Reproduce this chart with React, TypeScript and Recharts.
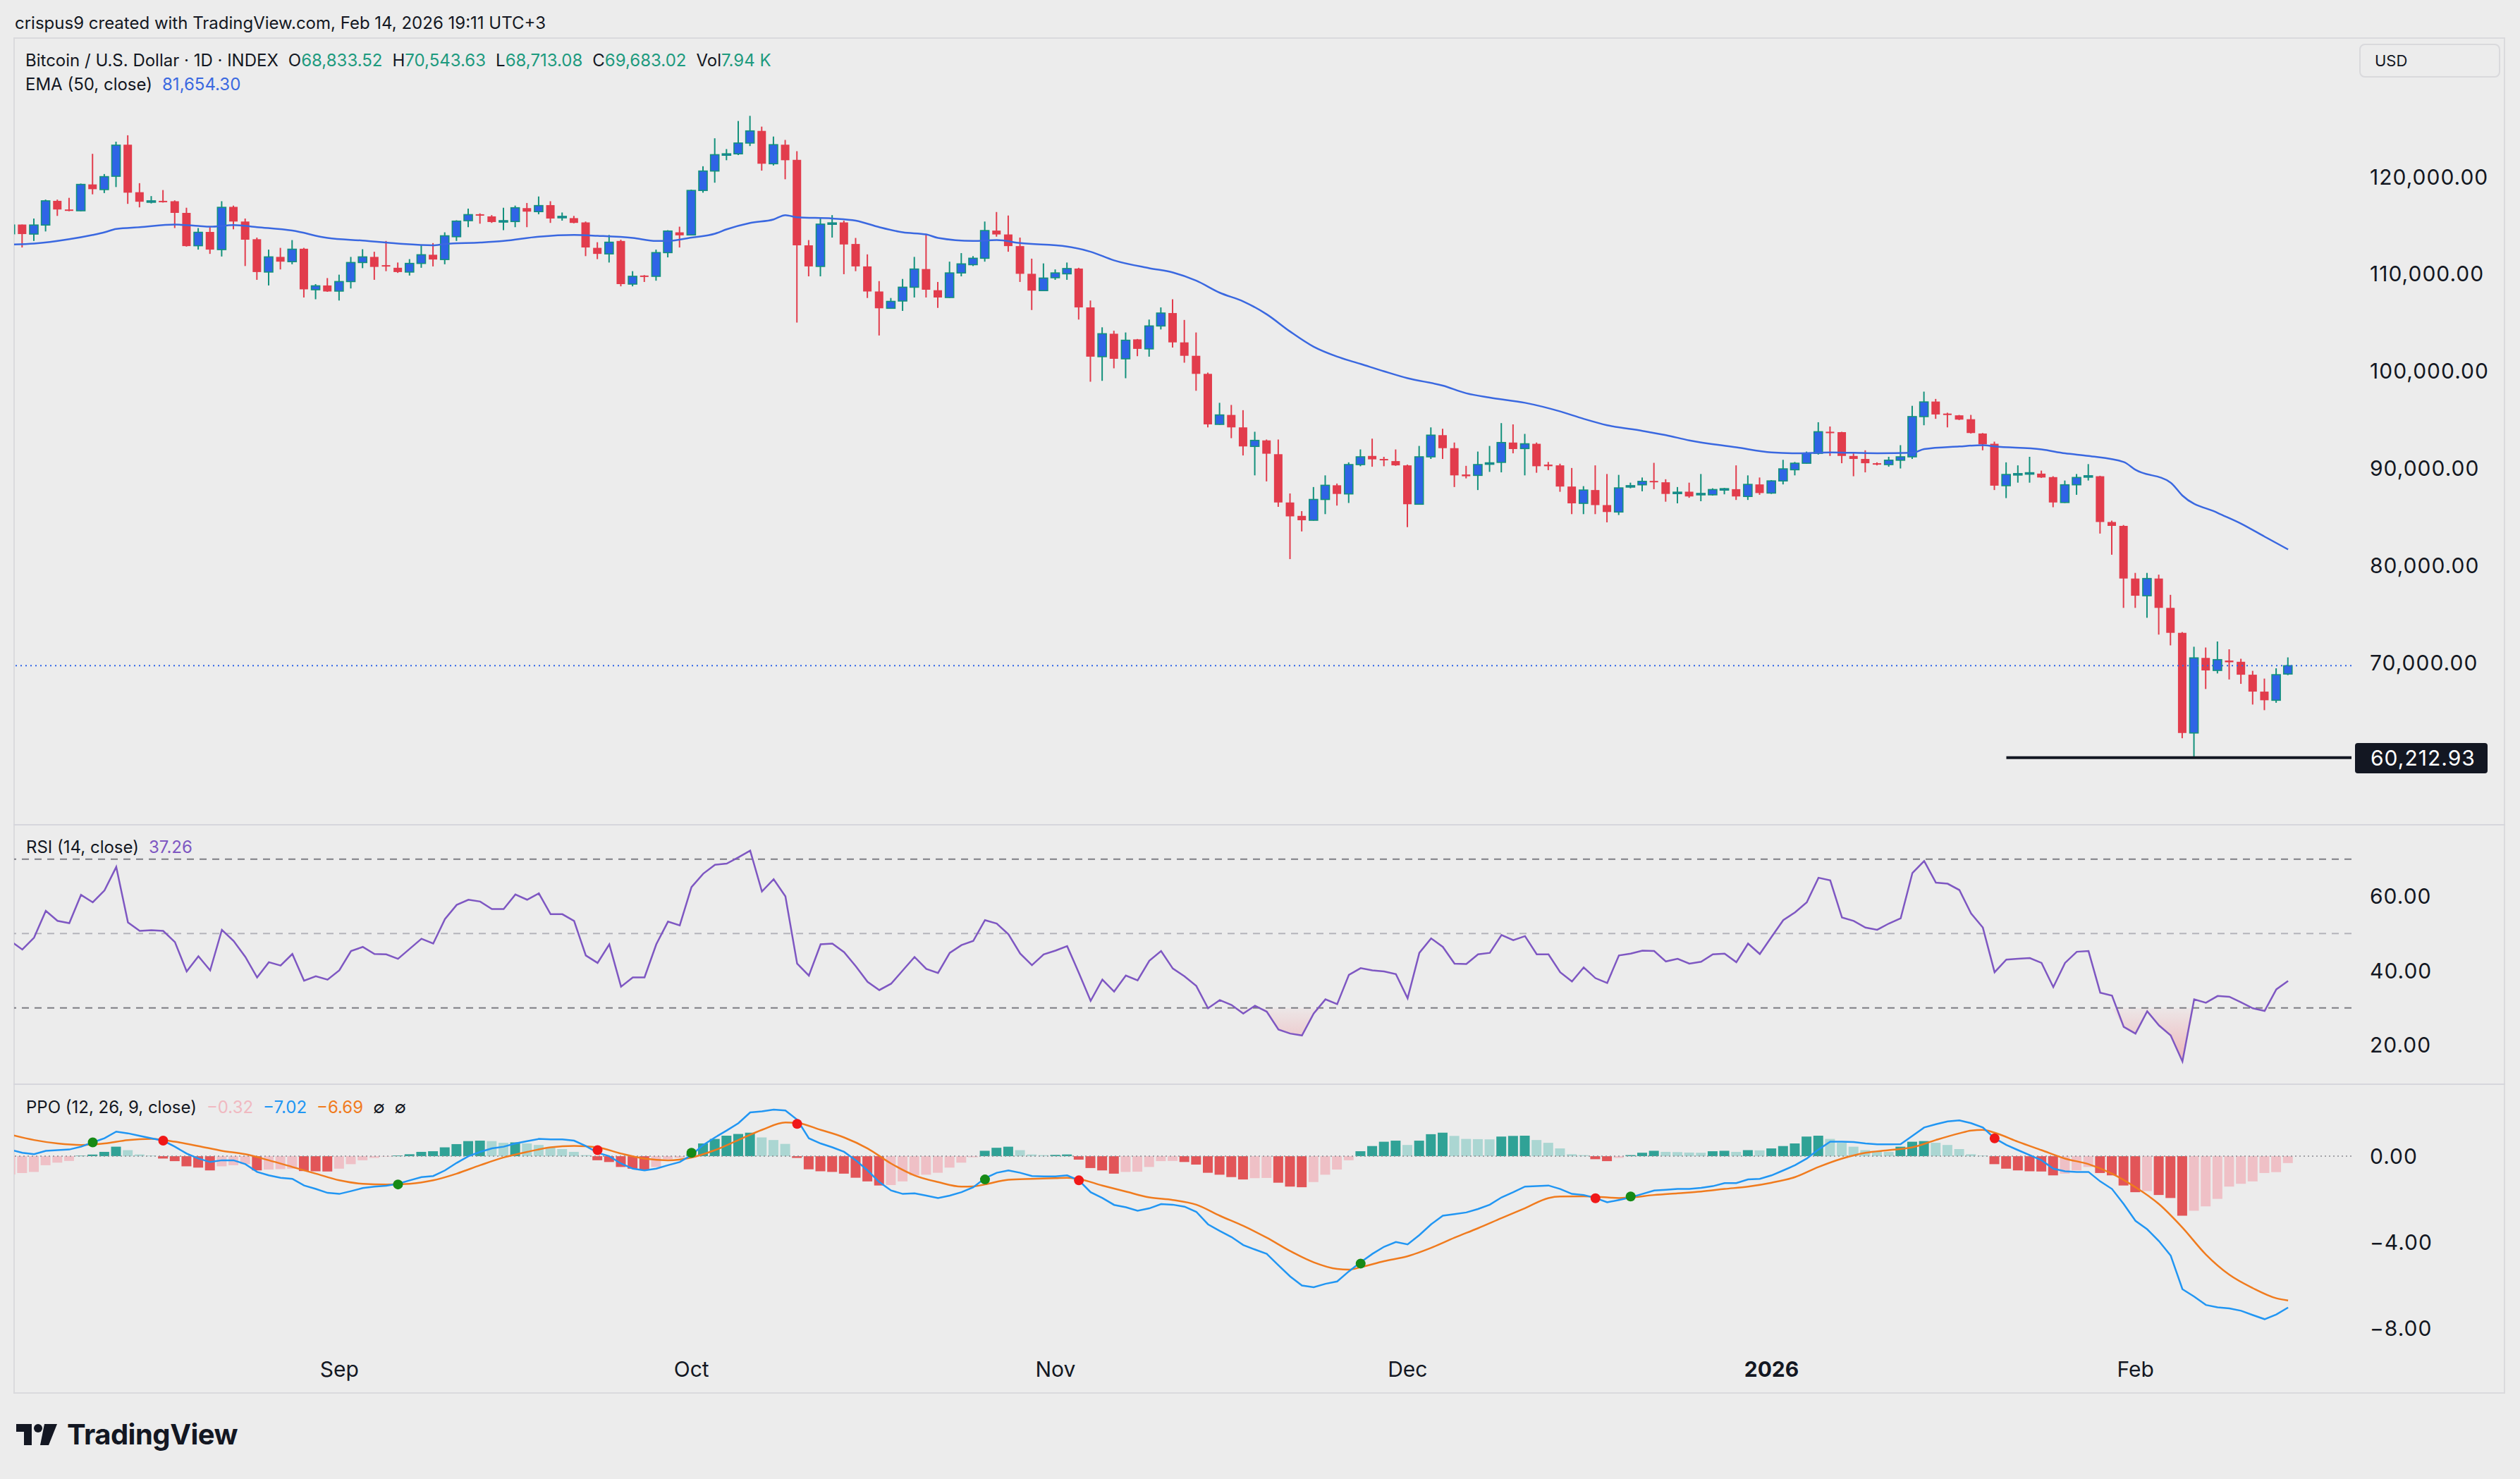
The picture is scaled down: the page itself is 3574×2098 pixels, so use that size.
import React from "react";
import { ComposedChart, Bar, Line, Area, XAxis, YAxis, ReferenceLine, ReferenceDot, Cell } from "recharts";

// day 0 = Aug 4, 2025 ... day 194 = Feb 14, 2026
const MONTH_DAYS = [28, 58, 89, 119, 150, 181];
const MONTH_LABELS = ["Sep", "Oct", "Nov", "Dec", "2026", "Feb"];

const OPEN = [
  114150, 115100, 114120, 115050, 117540, 116650, 116520, 119230, 118700, 120070,
  123320, 118430, 117450, 117540, 117500, 116300, 112920, 114340, 112520, 116920,
  115410, 113590, 110210, 111770, 111280, 112610, 108390, 108830, 108250, 109230,
  111190, 111770, 110920, 110650, 110210, 111100, 111990, 111500, 113850, 115500,
  116160, 115940, 115410, 115410, 116790, 116430, 117100, 115810, 115760, 115320,
  112700, 112080, 113410, 108970, 109850, 109770, 112210, 114300, 114030, 118610,
  120610, 122290, 122380, 123490, 124740, 121360, 123320, 121760, 112960, 110790,
  115140, 115320, 113100, 110790, 108210, 106480, 107230, 108650, 110520, 108340,
  107590, 110120, 110970, 111630, 114480, 114080, 112880, 110030, 108300, 109630,
  110030, 110570, 106570, 101500, 103860, 101280, 103280, 102300, 104660, 105990,
  102970, 101590, 99730, 94530, 95500, 94220, 92260, 92880, 91460, 86490,
  85110, 84660, 86800, 88260, 87370, 90390, 91280, 90970, 90750, 90310,
  86310, 91190, 93420, 92080, 89370, 89280, 90440, 90620, 92660, 92040,
  92530, 90390, 90310, 88130, 86400, 87770, 86220, 85510, 88130, 88310,
  88710, 88570, 87460, 87600, 87330, 87280, 87860, 87860, 87110, 88350,
  87460, 88710, 89860, 90530, 91550, 93770, 93730, 91280, 90970, 90530,
  90390, 90840, 91190, 95330, 96880, 95640, 95460, 95060, 93590, 92530,
  88220, 89370, 89460, 89460, 89100, 86490, 88310, 89100, 89190, 84480,
  84080, 78660, 76890, 78660, 75640, 73070, 62760, 70490, 69200, 70220,
  70090, 68760, 67020, 66130, 68833.52,
];
const HIGH = [
  115720, 115100, 115720, 117670, 117670, 117850, 119320, 122380, 120300, 123630,
  124290, 119360, 118030, 118650, 117590, 116830, 114740, 114830, 117500, 117050,
  115720, 113760, 112520, 112700, 113500, 112700, 108970, 109590, 109940, 111770,
  112560, 112300, 113410, 111190, 111540, 112960, 113190, 114300, 115540, 116740,
  116250, 116070, 116830, 117050, 117320, 117990, 117500, 116340, 115990, 115410,
  113280, 114030, 113540, 110300, 109900, 112520, 114520, 114880, 118700, 121100,
  123980, 122870, 125760, 126290, 125180, 124160, 123810, 122650, 113500, 115850,
  116070, 115500, 113720, 112030, 109280, 107540, 109500, 111770, 114080, 109190,
  111280, 112160, 111850, 115410, 116390, 116030, 113760, 111590, 111100, 110480,
  111190, 110650, 107280, 104520, 104170, 103990, 103320, 105320, 106570, 107410,
  105280, 103990, 99860, 96750, 96530, 95990, 93770, 92970, 92970, 87420,
  85600, 88080, 89280, 88440, 90620, 91950, 93060, 91190, 91950, 90390,
  92310, 94220, 94080, 92660, 90260, 91730, 92310, 94660, 94530, 93550,
  92660, 90660, 90480, 90040, 88170, 90310, 89420, 89330, 88530, 89060,
  90570, 88880, 88080, 88530, 89420, 87950, 87990, 90310, 89280, 89060,
  88790, 90880, 90660, 91730, 94750, 94310, 93770, 91550, 91860, 90620,
  91190, 92390, 96440, 97900, 97150, 95730, 95500, 95500, 93640, 92750,
  90620, 90310, 91190, 89770, 89190, 88750, 89420, 90440, 89240, 84620,
  84170, 79240, 79240, 79060, 76980, 73150, 71640, 71560, 72180, 71380,
  70400, 69160, 68360, 69420, 70543.63,
];
const LOW = [
  113990, 112740, 113410, 114390, 115990, 116470, 116470, 118210, 118340, 118960,
  117230, 116870, 117270, 117360, 114740, 112830, 112520, 112080, 111810, 114610,
  110830, 109410, 108830, 110480, 111010, 107590, 107410, 108170, 107280, 108520,
  110610, 109410, 110300, 110120, 109850, 110650, 110790, 111010, 113410, 114830,
  115190, 115270, 114520, 114830, 114830, 116160, 115270, 115500, 115230, 111850,
  111540, 111190, 108740, 108740, 109190, 109320, 111720, 112740, 113990, 118380,
  119410, 121720, 122250, 123180, 120650, 121180, 119760, 105010, 109770, 109770,
  113760, 109990, 110300, 107540, 103680, 106430, 106210, 107590, 107590, 106520,
  107540, 109770, 110830, 111280, 113850, 112300, 109190, 106300, 108250, 109410,
  109410, 105320, 98920, 99010, 100300, 99280, 101550, 101500, 104300, 102440,
  100880, 97990, 94220, 94480, 93110, 91330, 89280, 88660, 86040, 80660,
  83510, 84620, 85290, 86170, 86440, 90220, 90170, 90220, 90260, 83950,
  86260, 90970, 90970, 88080, 88970, 87770, 89640, 89590, 91550, 89280,
  89550, 89820, 87590, 85290, 85290, 85290, 84440, 85200, 87950, 87640,
  87860, 86570, 86400, 86970, 86620, 87200, 87330, 86750, 86750, 87280,
  87370, 88350, 89280, 90480, 91420, 91280, 90530, 89190, 89590, 90310,
  90170, 89990, 90970, 94440, 95100, 94220, 94970, 93590, 91860, 87770,
  86940, 88530, 88530, 89020, 86000, 86440, 87280, 88750, 83290, 81110,
  75640, 75640, 74620, 72890, 71780, 62220, 60212.93, 67290, 68890, 68270,
  67820, 65690, 65110, 65870, 68713.08,
];
const CLOSE = [
  115050, 114120, 115050, 117540, 116650, 116520, 119230, 118740, 120030, 123270,
  118380, 117450, 117540, 117410, 116300, 112880, 114300, 112520, 116870, 115410,
  113540, 110210, 111770, 111280, 112560, 108430, 108790, 108210, 109230, 111190,
  111770, 110740, 110790, 110210, 111100, 111990, 111500, 113940, 115450, 116120,
  116030, 115360, 115500, 116830, 116430, 117050, 115720, 115940, 115270, 112740,
  112080, 113280, 108970, 109770, 109770, 112210, 114430, 113990, 118610, 120610,
  122290, 122380, 123490, 124740, 121360, 123320, 121720, 112960, 110790, 115140,
  115270, 113050, 110790, 108210, 106480, 107190, 108650, 110520, 108390, 107590,
  110120, 111050, 111630, 114480, 114080, 112880, 110030, 108300, 109590, 110120,
  110570, 106570, 101500, 103860, 101280, 103190, 102300, 104660, 105990, 102970,
  101590, 99730, 94530, 95500, 94220, 92260, 92880, 91510, 86490, 85060,
  84660, 86800, 88260, 87370, 90390, 91190, 90930, 90840, 90310, 86310,
  91190, 93420, 92080, 89280, 89190, 90390, 90570, 92660, 91990, 92530,
  90220, 90220, 88130, 86400, 87770, 86220, 85510, 87990, 88220, 88660,
  88620, 87370, 87550, 87110, 87420, 87820, 87910, 87110, 88350, 87460,
  88710, 89950, 90530, 91550, 93770, 93640, 91280, 90970, 90530, 90390,
  90840, 91190, 95330, 96840, 95550, 95550, 95020, 93640, 92480, 88220,
  89370, 89460, 89550, 89060, 86490, 88310, 89060, 89240, 84480, 84080,
  78660, 76890, 78660, 75640, 73070, 62760, 70490, 69200, 70310, 70040,
  68760, 67020, 66130, 68760, 69683.02,
];

// EMA(50) read at these days
const EMA_DAYS = [0, 2, 5, 7, 8, 9, 11, 14, 16, 17, 19, 21, 24, 27, 30, 33, 36, 37, 40, 42, 45, 48, 50, 53, 55, 56, 58, 60, 61, 63, 65, 66, 67, 70, 72, 74, 76, 78, 79, 82, 84, 86, 90, 92, 94, 97, 99, 101, 103, 105, 107, 109, 111, 113, 115, 117, 119, 122, 124, 126, 129, 132, 134, 136, 139, 141, 143, 147, 150, 152, 155, 157, 159, 162, 163, 166, 168, 169, 173, 175, 177, 180, 181, 184, 185, 188, 190, 192, 194];
const EMA_VALUES = [113050, 113140, 113590, 114030, 114300, 114650, 114830, 115100, 114960, 114880, 115050, 114830, 114480, 113720, 113450, 113140, 112960, 113100, 113250, 113410, 113850, 114030, 113940, 113720, 113410, 113410, 113760, 114160, 114610, 115270, 115630, 116070, 115850, 115720, 115500, 114830, 114300, 114080, 113720, 113410, 113500, 113190, 112830, 112300, 111410, 110610, 110170, 109320, 108080, 107190, 105860, 104080, 102520, 101500, 100750, 99990, 99280, 98520, 97730, 97280, 96750, 95860, 95100, 94440, 93860, 93420, 92880, 92170, 91640, 91550, 91640, 91600, 91560, 91600, 91990, 92260, 92390, 92260, 91950, 91550, 91280, 90660, 89860, 88530, 87200, 85420, 84310, 82970, 81654.3];

const RSI = [
  48.0, 45.7, 48.9, 56.1, 53.4, 52.8, 60.4, 58.4, 61.6, 67.9,
  53.0, 50.7, 50.9, 50.7, 47.7, 39.8, 43.9, 40.1, 51.0, 48.0,
  43.7, 38.2, 42.3, 41.4, 44.5, 37.3, 38.5, 37.6, 40.1, 45.3,
  46.4, 44.5, 44.4, 43.2, 45.9, 48.6, 47.3, 53.9, 57.7, 59.1,
  58.6, 56.6, 56.6, 60.5, 59.1, 60.8, 55.2, 55.2, 53.4, 44.1,
  42.1, 47.1, 35.7, 38.2, 38.2, 47.1, 53.2, 52.2, 62.5, 66.1,
  68.5, 68.8, 70.5, 72.3, 61.3, 64.6, 60.0, 41.9, 38.7, 47.1,
  47.3, 45.0, 41.2, 37.0, 34.8, 36.5, 40.1, 43.7, 40.5, 39.4,
  44.8, 46.9, 48.0, 53.6, 52.7, 49.8, 44.6, 41.5, 44.4, 45.4,
  46.6, 39.4, 31.9, 37.6, 34.4, 38.7, 37.4, 42.7, 45.3, 40.6,
  38.5, 35.9, 29.9, 32.1, 30.8, 28.5, 30.6, 29.0, 24.2, 23.1,
  22.6, 28.5, 32.3, 31.0, 38.9, 40.7, 40.1, 39.8, 39.1, 32.6,
  44.8, 48.7, 46.4, 41.9, 41.8, 44.4, 44.8, 49.6, 48.2, 49.3,
  44.4, 44.4, 39.6, 37.1, 40.9, 38.0, 36.7, 44.1, 44.6, 45.4,
  45.3, 42.5, 43.2, 41.9, 42.4, 44.4, 44.6, 42.3, 47.3, 44.5,
  49.1, 53.6, 55.7, 58.4, 65.0, 64.3, 54.3, 53.4, 51.6, 51.0,
  52.7, 54.1, 66.3, 69.5, 63.7, 63.4, 61.7, 55.4, 51.6, 39.6,
  43.0, 43.2, 43.4, 42.1, 35.6, 42.1, 45.1, 45.3, 34.1, 33.3,
  24.9, 23.1, 29.1, 25.3, 22.6, 15.6, 32.3, 31.4, 33.2, 33.0,
  31.5, 29.9, 29.2, 35.0, 37.26,
];

const PPO = [
  0.30, 0.16, 0.09, 0.25, 0.28, 0.31, 0.44, 0.64, 0.83, 1.14,
  1.06, 0.94, 0.83, 0.72, 0.44, 0.12, -0.11, -0.27, -0.19, -0.19,
  -0.37, -0.73, -0.89, -1.00, -1.05, -1.36, -1.52, -1.70, -1.75, -1.62,
  -1.48, -1.41, -1.37, -1.28, -1.12, -0.97, -0.92, -0.66, -0.31, 0.00,
  0.20, 0.36, 0.44, 0.59, 0.70, 0.80, 0.78, 0.78, 0.72, 0.47,
  0.16, 0.00, -0.34, -0.58, -0.66, -0.58, -0.42, -0.27, 0.05, 0.52,
  0.87, 1.19, 1.53, 2.03, 2.08, 2.16, 2.12, 1.69, 0.83, 0.59,
  0.41, 0.20, -0.19, -0.66, -1.20, -1.59, -1.75, -1.72, -1.83, -1.94,
  -1.83, -1.67, -1.44, -1.02, -0.77, -0.66, -0.77, -0.92, -0.94, -0.94,
  -0.89, -1.12, -1.67, -1.94, -2.26, -2.37, -2.53, -2.42, -2.22, -2.25,
  -2.34, -2.58, -3.16, -3.47, -3.75, -4.12, -4.33, -4.53, -5.06, -5.58,
  -6.00, -6.08, -5.92, -5.81, -5.34, -4.92, -4.53, -4.20, -3.98, -4.09,
  -3.66, -3.16, -2.76, -2.69, -2.61, -2.45, -2.25, -1.91, -1.67, -1.41,
  -1.39, -1.36, -1.52, -1.75, -1.80, -1.94, -2.14, -2.03, -1.91, -1.75,
  -1.59, -1.56, -1.52, -1.52, -1.47, -1.39, -1.25, -1.25, -1.08, -1.05,
  -0.89, -0.66, -0.42, -0.11, 0.31, 0.67, 0.67, 0.66, 0.59, 0.55,
  0.55, 0.56, 0.94, 1.33, 1.48, 1.61, 1.66, 1.53, 1.33, 0.83,
  0.52, 0.28, 0.05, -0.19, -0.58, -0.70, -0.73, -0.73, -1.17, -1.52,
  -2.22, -3.00, -3.39, -3.94, -4.61, -6.17, -6.51, -6.90, -7.01, -7.06,
  -7.17, -7.37, -7.56, -7.34, -7.02,
];

const SIGNAL_DAYS = [0, 2, 4, 6, 8, 10, 12, 14, 16, 18, 20, 22, 24, 26, 28, 30, 32, 34, 36, 38, 40, 42, 44, 46, 48, 50, 52, 54, 56, 58, 60, 62, 64, 66, 67, 69, 71, 73, 75, 77, 79, 81, 82, 83, 85, 87, 89, 90, 91, 93, 95, 97, 99, 101, 103, 105, 107, 109, 111, 113, 114, 115, 117, 119, 121, 123, 125, 127, 129, 131, 132, 134, 136, 137, 138, 140, 142, 144, 146, 148, 150, 152, 154, 156, 158, 160, 162, 164, 166, 167, 168, 169, 171, 173, 175, 177, 179, 181, 183, 185, 187, 189, 191, 193, 194];
const SIGNAL_VALUES = [1.0, 0.75, 0.59, 0.52, 0.59, 0.75, 0.8, 0.67, 0.47, 0.25, 0.09, -0.19, -0.5, -0.81, -1.12, -1.28, -1.31, -1.28, -1.12, -0.81, -0.42, -0.06, 0.2, 0.41, 0.48, 0.41, 0.12, -0.11, -0.19, -0.06, 0.28, 0.75, 1.22, 1.56, 1.54, 1.22, 0.87, 0.36, -0.34, -0.89, -1.2, -1.41, -1.4, -1.31, -1.09, -1.05, -1.02, -1.0, -1.06, -1.36, -1.64, -1.91, -2.03, -2.25, -2.76, -3.23, -3.78, -4.4, -4.92, -5.23, -5.26, -5.15, -4.87, -4.64, -4.25, -3.78, -3.34, -2.87, -2.41, -1.94, -1.87, -1.86, -1.91, -1.94, -1.91, -1.8, -1.72, -1.64, -1.52, -1.41, -1.23, -0.97, -0.5, -0.11, 0.16, 0.28, 0.41, 0.75, 1.06, 1.19, 1.22, 1.09, 0.67, 0.28, -0.11, -0.37, -0.81, -1.44, -2.22, -3.31, -4.56, -5.5, -6.12, -6.59, -6.69];

const HIST = [
  -0.85, -0.78, -0.73, -0.42, -0.30, -0.22, 0.02, 0.08, 0.20, 0.44,
  0.28, 0.08, 0.03, -0.11, -0.23, -0.47, -0.53, -0.66, -0.47, -0.42,
  -0.37, -0.66, -0.62, -0.60, -0.58, -0.69, -0.70, -0.71, -0.58, -0.37,
  -0.19, -0.08, -0.02, 0.03, 0.09, 0.20, 0.23, 0.41, 0.56, 0.70,
  0.72, 0.70, 0.62, 0.64, 0.59, 0.52, 0.41, 0.33, 0.20, 0.05,
  -0.19, -0.27, -0.50, -0.58, -0.62, -0.50, -0.14, -0.08, 0.12, 0.59,
  0.80, 0.95, 1.03, 1.09, 0.87, 0.75, 0.57, -0.08, -0.61, -0.70,
  -0.73, -0.81, -1.00, -1.17, -1.36, -1.34, -1.17, -0.89, -0.86, -0.77,
  -0.53, -0.30, -0.05, 0.25, 0.39, 0.44, 0.28, 0.08, 0.05, 0.06,
  0.08, -0.16, -0.55, -0.66, -0.81, -0.73, -0.72, -0.50, -0.23, -0.22,
  -0.27, -0.39, -0.77, -0.86, -0.97, -1.08, -1.02, -1.01, -1.23, -1.41,
  -1.44, -1.20, -0.86, -0.62, -0.19, 0.23, 0.47, 0.67, 0.72, 0.52,
  0.72, 1.02, 1.09, 0.94, 0.80, 0.79, 0.78, 0.91, 0.94, 0.95,
  0.75, 0.62, 0.36, 0.09, 0.05, -0.14, -0.23, -0.08, 0.05, 0.16,
  0.25, 0.20, 0.19, 0.17, 0.16, 0.23, 0.25, 0.20, 0.28, 0.27,
  0.36, 0.47, 0.59, 0.91, 0.95, 0.80, 0.62, 0.44, 0.28, 0.23,
  0.20, 0.44, 0.67, 0.70, 0.62, 0.52, 0.33, 0.09, 0.03, -0.37,
  -0.58, -0.66, -0.70, -0.71, -0.89, -0.81, -0.66, -0.50, -0.78, -0.89,
  -1.36, -1.67, -1.62, -1.80, -1.94, -2.76, -2.53, -2.33, -1.98, -1.41,
  -1.28, -1.17, -0.78, -0.74, -0.32,
];

const CROSS_DAYS = [7, 13, 33, 50, 58, 67, 83, 91, 115, 135, 138, 169];
const CROSS_VALUES = [0.64, 0.72, -1.31, 0.28, 0.16, 1.5, -1.08, -1.12, -4.98, -1.95, -1.87, 0.83];
const CROSS_UP = [true, false, true, false, true, false, true, false, true, false, true, false];

const PRICE_TICKS = [70000, 80000, 90000, 100000, 110000, 120000];
const RSI_TICKS = [20, 40, 60];
const PPO_TICKS = [-8, -4, 0];
const LOW_MARK = 60212.93;
const LOW_MARK_FROM = 170;
const EMA_LAST = 81654.3;
const RSI_LAST = 37.26;
const VOL_LAST = "7.94 K";

// layout
const PAGE_W = 3574;
const PAGE_H = 2098;
const CHART_W = 3553;
const PLOT_LEFT = 20;
const AXIS_W = 218;
const X_DOMAIN: [number, number] = [0.3, 199.4];
const PRICE_TOP = 53;
const PRICE_H = 1116;
const PRICE_DOMAIN: [number, number] = [53382, 134369];
const RSI_TOP = 1169;
const RSI_H = 368;
const RSI_DOMAIN: [number, number] = [9.67, 79.43];
const PPO_TOP = 1537;
const PPO_H = 440;
const XAXIS_H = 69;
const PPO_DOMAIN: [number, number] = [-8.76, 3.37];

const TEXT = "#131722";
const UP_BODY = "#2f64e6";
const UP_EDGE = "#13917c";
const DOWN = "#e23c4c";
const EMA_COLOR = "#3a68e0";
const RSI_COLOR = "#7e57c2";
const PPO_COLOR = "#2196f3";
const SIG_COLOR = "#f07b1e";
const H_TEAL = "#30a296";
const H_TEAL_LIGHT = "#abd6d2";
const H_RED = "#e25558";
const H_PINK = "#efc0c6";
const FONT = "Inter, 'Noto Sans', sans-serif";

const emaAt = new Map(EMA_DAYS.map((d, k) => [d, EMA_VALUES[k]]));
const sigAt = new Map(SIGNAL_DAYS.map((d, k) => [d, SIGNAL_VALUES[k]]));

const rows = OPEN.map((o, i) => ({
  i,
  o,
  h: HIGH[i],
  l: LOW[i],
  c: CLOSE[i],
  ema: emaAt.has(i) ? emaAt.get(i) : null,
  rsi: RSI[i],
  ppo: PPO[i],
  sig: sigAt.has(i) ? sigAt.get(i) : null,
  hist: HIST[i],
}));

const histColor = (i: number) => {
  const h = HIST[i];
  const p = i > 0 ? HIST[i - 1] : h;
  if (h >= 0) return h > p ? H_TEAL : H_TEAL_LIGHT;
  return h < p ? H_RED : H_PINK;
};

const fmt2 = (v: number) =>
  v.toLocaleString("en-US", { minimumFractionDigits: 2, maximumFractionDigits: 2 });
const fmtSigned = (v: number) => (v < 0 ? "\u2212" + fmt2(Math.abs(v)) : fmt2(v));

const Candle = (props: any) => {
  const { x, y, width, height, payload } = props;
  if (!payload || x == null) return null;
  const top = Math.min(y, y + height);
  const span = Math.abs(height);
  const k = span / (payload.h - payload.l || 1);
  const yO = top + (payload.h - payload.o) * k;
  const yC = top + (payload.h - payload.c) * k;
  const up = payload.c >= payload.o;
  const cx = x + width / 2;
  const bTop = Math.min(yO, yC);
  const bH = Math.max(Math.abs(yC - yO), 2);
  return (
    <g>
      <line x1={cx} x2={cx} y1={top} y2={top + span} stroke={up ? UP_EDGE : DOWN} strokeWidth={2} />
      <rect
        x={x}
        y={bTop}
        width={width}
        height={bH}
        fill={up ? UP_BODY : DOWN}
        stroke={up ? UP_EDGE : "none"}
        strokeWidth={up ? 1.6 : 0}
      />
    </g>
  );
};

const MonthTick = ({ x, y, payload }: any) => {
  const label = MONTH_LABELS[MONTH_DAYS.indexOf(payload.value)];
  return (
    <text
      x={x}
      y={y + 34}
      textAnchor="middle"
      dominantBaseline="central"
      fontSize={30}
      fontFamily={FONT}
      fontWeight={label === "2026" ? 700 : 400}
      fill={TEXT}
    >
      {label}
    </text>
  );
};

const yTick = { fontSize: 30, fill: TEXT, fontFamily: FONT, letterSpacing: 1 };

const Txt = ({ left, top, size = 24, color = TEXT, weight = 400, children }: any) => (
  <div
    style={{
      position: "absolute",
      left,
      top,
      transform: "translateY(-50%)",
      fontSize: size,
      color,
      fontWeight: weight,
      whiteSpace: "nowrap",
      lineHeight: 1,
    }}
  >
    {children}
  </div>
);

const G = "#1d9a7e";

export default function App() {
  const lowY =
    PRICE_TOP + ((PRICE_DOMAIN[1] - LOW_MARK) / (PRICE_DOMAIN[1] - PRICE_DOMAIN[0])) * PRICE_H;
  const last = rows[rows.length - 1];
  const margin = { top: 0, right: 0, bottom: 0, left: PLOT_LEFT };

  return (
    <div
      style={{
        position: "relative",
        width: PAGE_W,
        height: PAGE_H,
        background: "#ececec",
        fontFamily: FONT,
        color: TEXT,
        overflow: "hidden",
      }}
    >
      <style>{"body{margin:0;background:#ececec}"}</style>

      <Txt left={21} top={33}>crispus9 created with TradingView.com, Feb 14, 2026 19:11 UTC+3</Txt>

      {/* chart frame */}
      <div
        style={{
          position: "absolute",
          left: 19,
          top: PRICE_TOP,
          width: CHART_W - 19,
          height: 1977 - PRICE_TOP,
          border: "2px solid #dadadd",
          boxSizing: "border-box",
        }}
      />
      <div style={{ position: "absolute", left: 19, top: RSI_TOP, width: CHART_W - 19, height: 2, background: "#d6d6dc" }} />
      <div style={{ position: "absolute", left: 19, top: PPO_TOP, width: CHART_W - 19, height: 2, background: "#d6d6dc" }} />

      {/* price pane */}
      <div style={{ position: "absolute", left: 0, top: PRICE_TOP }}>
        <ComposedChart width={CHART_W} height={PRICE_H} data={rows} margin={margin}>
          <XAxis dataKey="i" type="number" domain={X_DOMAIN} allowDataOverflow hide />
          <YAxis
            orientation="right"
            width={AXIS_W}
            type="number"
            domain={PRICE_DOMAIN}
            allowDataOverflow
            ticks={PRICE_TICKS}
            tickFormatter={fmt2}
            axisLine={false}
            tickLine={false}
            tickSize={0}
            tickMargin={26}
            tick={yTick}
          />
          <ReferenceLine y={last.c} stroke="#2f64e6" strokeDasharray="2 5" strokeWidth={2} />
          <ReferenceLine
            segment={[
              { x: LOW_MARK_FROM, y: LOW_MARK },
              { x: X_DOMAIN[1], y: LOW_MARK },
            ]}
            stroke={TEXT}
            strokeWidth={4}
          />
          <Line
            dataKey="ema"
            type="monotone"
            stroke={EMA_COLOR}
            strokeWidth={2.5}
            dot={false}
            connectNulls
            isAnimationActive={false}
          />
          <Bar dataKey={(d: any) => [d.l, d.h]} barSize={12} shape={Candle} isAnimationActive={false} />
        </ComposedChart>
      </div>

      {/* rsi pane */}
      <div style={{ position: "absolute", left: 0, top: RSI_TOP }}>
        <ComposedChart width={CHART_W} height={RSI_H} data={rows} margin={margin}>
          <defs>
            <linearGradient id="oversold" x1="0" y1="0" x2="0" y2="1">
              <stop offset="0%" stopColor="#f23645" stopOpacity={0.03} />
              <stop offset="100%" stopColor="#f23645" stopOpacity={0.3} />
            </linearGradient>
          </defs>
          <XAxis dataKey="i" type="number" domain={X_DOMAIN} allowDataOverflow hide />
          <YAxis
            orientation="right"
            width={AXIS_W}
            type="number"
            domain={RSI_DOMAIN}
            allowDataOverflow
            ticks={RSI_TICKS}
            tickFormatter={fmt2}
            axisLine={false}
            tickLine={false}
            tickSize={0}
            tickMargin={26}
            tick={yTick}
          />
          <ReferenceLine y={70} stroke="#7d7d84" strokeDasharray="10 8" strokeWidth={2} />
          <ReferenceLine y={50} stroke="#b4b4ba" strokeDasharray="10 8" strokeWidth={2} />
          <ReferenceLine y={30} stroke="#7d7d84" strokeDasharray="10 8" strokeWidth={2} />
          <Area
            dataKey={(d: any) => Math.min(d.rsi, 30)}
            baseValue={30}
            type="linear"
            stroke="none"
            fill="url(#oversold)"
            fillOpacity={1}
            isAnimationActive={false}
          />
          <Line dataKey="rsi" type="linear" stroke={RSI_COLOR} strokeWidth={2.5} dot={false} isAnimationActive={false} />
        </ComposedChart>
      </div>

      {/* ppo pane + time axis */}
      <div style={{ position: "absolute", left: 0, top: PPO_TOP }}>
        <ComposedChart width={CHART_W} height={PPO_H} data={rows} margin={margin}>
          <XAxis
            dataKey="i"
            type="number"
            domain={X_DOMAIN}
            allowDataOverflow
            ticks={MONTH_DAYS}
            height={XAXIS_H}
            axisLine={false}
            tickLine={false}
            tickSize={0}
            tickMargin={0}
            tick={<MonthTick />}
            interval={0}
          />
          <YAxis
            orientation="right"
            width={AXIS_W}
            type="number"
            domain={PPO_DOMAIN}
            allowDataOverflow
            ticks={PPO_TICKS}
            tickFormatter={fmtSigned}
            axisLine={false}
            tickLine={false}
            tickSize={0}
            tickMargin={26}
            tick={yTick}
          />
          <ReferenceLine y={0} stroke="#8a8a90" strokeDasharray="2 4" strokeWidth={1.5} />
          <Bar dataKey="hist" barSize={14} isAnimationActive={false}>
            {rows.map((r) => (
              <Cell key={r.i} fill={histColor(r.i)} />
            ))}
          </Bar>
          <Line dataKey="sig" type="monotone" stroke={SIG_COLOR} strokeWidth={2.5} dot={false} connectNulls isAnimationActive={false} />
          <Line dataKey="ppo" type="linear" stroke={PPO_COLOR} strokeWidth={2.5} dot={false} isAnimationActive={false} />
          {CROSS_DAYS.map((d, k) => (
            <ReferenceDot
              key={d}
              x={d}
              y={CROSS_VALUES[k]}
              r={7}
              fill={CROSS_UP[k] ? "#168a16" : "#f01818"}
              stroke="none"
            />
          ))}
        </ComposedChart>
      </div>

      {/* legends */}
      <div
        style={{
          position: "absolute",
          left: 36,
          top: 86,
          transform: "translateY(-50%)",
          display: "flex",
          gap: 14,
          fontSize: 24,
          lineHeight: 1,
          whiteSpace: "nowrap",
        }}
      >
        <span>Bitcoin / U.S. Dollar · 1D · INDEX</span>
        <span>O<span style={{ color: G }}>{fmt2(last.o)}</span></span>
        <span>H<span style={{ color: G }}>{fmt2(last.h)}</span></span>
        <span>L<span style={{ color: G }}>{fmt2(last.l)}</span></span>
        <span>C<span style={{ color: G }}>{fmt2(last.c)}</span></span>
        <span>Vol<span style={{ color: G }}>{VOL_LAST}</span></span>
      </div>
      <div style={{ position: "absolute", left: 36, top: 120, transform: "translateY(-50%)", display: "flex", gap: 14, fontSize: 24, lineHeight: 1, whiteSpace: "nowrap" }}>
        <span>EMA (50, close)</span>
        <span style={{ color: EMA_COLOR }}>{fmt2(EMA_LAST)}</span>
      </div>
      <div style={{ position: "absolute", left: 37, top: 1202, transform: "translateY(-50%)", display: "flex", gap: 14, fontSize: 24, lineHeight: 1, whiteSpace: "nowrap" }}>
        <span>RSI (14, close)</span>
        <span style={{ color: RSI_COLOR }}>{fmt2(RSI_LAST)}</span>
      </div>
      <div style={{ position: "absolute", left: 37, top: 1571, transform: "translateY(-50%)", display: "flex", gap: 14, fontSize: 24, lineHeight: 1, whiteSpace: "nowrap" }}>
        <span>PPO (12, 26, 9, close)</span>
        <span style={{ color: "#f0b9c1" }}>{fmtSigned(HIST[HIST.length - 1])}</span>
        <span style={{ color: PPO_COLOR }}>{fmtSigned(PPO[PPO.length - 1])}</span>
        <span style={{ color: SIG_COLOR }}>{fmtSigned(SIGNAL_VALUES[SIGNAL_VALUES.length - 1])}</span>
        <span>∅</span>
        <span>∅</span>
      </div>

      {/* price scale extras */}
      <div
        style={{
          position: "absolute",
          left: 3346,
          top: 62,
          width: 200,
          height: 48,
          border: "2px solid #d9d9dc",
          borderRadius: 8,
          boxSizing: "border-box",
          background: "#ececec",
          fontSize: 22,
          lineHeight: "44px",
          paddingLeft: 20,
        }}
      >
        USD
      </div>
      <div
        style={{
          position: "absolute",
          left: 3340,
          top: lowY - 21,
          width: 188,
          height: 43,
          background: TEXT,
          color: "#fff",
          borderRadius: 4,
          fontSize: 30,
          letterSpacing: 1,
          lineHeight: "43px",
          paddingLeft: 22,
          boxSizing: "border-box",
        }}
      >
        {fmt2(LOW_MARK)}
      </div>

      {/* logo */}
      <div style={{ position: "absolute", left: 23, top: 2035, transform: "translateY(-50%)", display: "flex", alignItems: "center", gap: 14 }}>
        <svg width={58} height={30} viewBox="0 0 58 30">
          <path d="M0 0 H22 V30 H11 V11 H0 Z" fill={TEXT} />
          <circle cx={31} cy={6} r={6} fill={TEXT} />
          <path d="M40 0 H58 L46 30 H34 Z" fill={TEXT} />
        </svg>
        <span style={{ fontSize: 40, fontWeight: 700, lineHeight: 1, letterSpacing: -0.5 }}>TradingView</span>
      </div>
    </div>
  );
}
